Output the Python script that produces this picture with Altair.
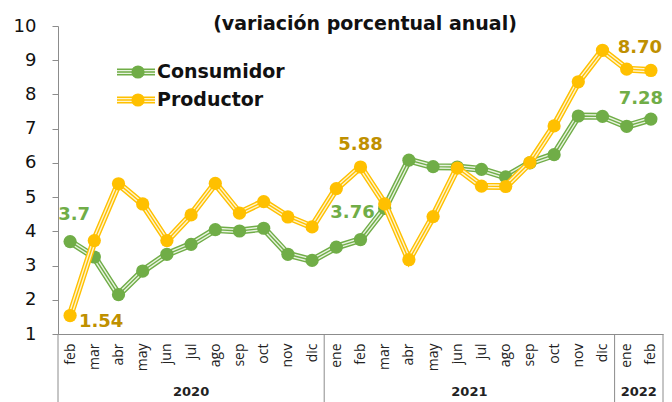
import altair as alt
import pandas as pd

months = ["feb", "mar", "abr", "may", "jun", "jul", "ago", "sep", "oct", "nov", "dic",
          "ene", "feb", "mar", "abr", "may", "jun", "jul", "ago", "sep", "oct", "nov", "dic",
          "ene", "feb"]
years = ["2020"] * 11 + ["2021"] * 12 + ["2022"] * 2

consumidor = [3.70, 3.25, 2.15, 2.84, 3.33, 3.62, 4.05, 4.01, 4.09, 3.33, 3.15,
              3.54, 3.76, 4.67, 6.08, 5.89, 5.88, 5.81, 5.59, 6.00, 6.24, 7.37, 7.36,
              7.07, 7.28]
productor = [1.54, 3.73, 5.39, 4.80, 3.73, 4.48, 5.40, 4.53, 4.87, 4.42, 4.13,
             5.25, 5.88, 4.80, 3.17, 4.43, 5.85, 5.32, 5.31, 6.01, 7.08, 8.37, 9.29,
             8.74, 8.70]

series_names = ["Consumidor", "Productor"]
series_values = [consumidor, productor]
main_colors = ["#70AD47", "#FFC000"]
light_colors = ["#E8F3E0", "#FFF4CC"]
label_colors = ["#70AD47", "#BF9000"]

# annotated points: (series, index, text, dx, dy)
annotations = [
    ("Consumidor", 0, "3.7", 4, -27),
    ("Productor", 0, "1.54", 31, 6),
    ("Consumidor", 12, "3.76", -8, -27),
    ("Productor", 12, "5.88", 0, -22),
    ("Productor", 24, "8.70", -11, -22),
    ("Consumidor", 24, "7.28", -10, -20),
]

title_text = "(variación porcentual anual)"

n = len(months)
rows = []
for s, vals in zip(series_names, series_values):
    for i, v in enumerate(vals):
        rows.append({"idx": i, "series": s, "value": v, "month": months[i], "year": years[i]})
df = pd.DataFrame(rows)

# year groups
yr_df = pd.DataFrame({"idx": range(n), "year": years})
groups = yr_df.groupby("year")["idx"].agg(["min", "max"]).reset_index()
groups["mid"] = (groups["min"] + groups["max"]) / 2
bounds = sorted(set([-0.5] + list(groups["max"] + 0.5)))
bounds_df = pd.DataFrame({"b": bounds})

label_expr = "[" + ",".join("'" + m + "'" for m in months) + "][datum.value]"

xscale = alt.Scale(domain=[-0.5, n - 0.5], nice=False, zero=False)
yscale = alt.Scale(domain=[1, 10], nice=False, zero=False)

x_axis = alt.Axis(values=list(range(n)), labelExpr=label_expr, labelAngle=270,
                  tickSize=0, labelPadding=9, labelFont="Open Sans", labelFontSize=14,
                  labelColor="#222222", domainColor="#8C8C8C", grid=False, title=None,
                  labelOverlap=False)
y_axis = alt.Axis(values=list(range(1, 11)), tickSize=6, labelPadding=16,
                  labelFont="DejaVu Sans", labelFontSize=18, labelColor="#111111",
                  domainColor="#8C8C8C", tickColor="#8C8C8C", grid=False, title=None)

X = alt.X("idx:Q", scale=xscale, axis=x_axis)
Y = alt.Y("value:Q", scale=yscale, axis=y_axis)

layers = []
for s, mc, lc in zip(series_names, main_colors, light_colors):
    base = alt.Chart(df).transform_filter(alt.datum.series == s).encode(x=X, y=Y)
    layers.append(base.mark_line(color=mc, strokeWidth=7))
    layers.append(base.mark_line(color=lc, strokeWidth=4.2))
    layers.append(base.mark_line(color=mc, strokeWidth=1.4))
    layers.append(base.mark_circle(color=mc, size=175, opacity=1))

for s, i, txt, dx, dy in annotations:
    col = label_colors[series_names.index(s)]
    t = alt.Chart(df).transform_filter(
        (alt.datum.series == s) & (alt.datum.idx == i)
    ).transform_calculate(lbl=f"'{txt}'").mark_text(
        font="DejaVu Sans", fontWeight="bold", fontSize=18, color=col,
        dx=dx, dy=dy, align="center", baseline="middle"
    ).encode(x=X, y=Y, text="lbl:N")
    layers.append(t)

# separators below x axis
sep = alt.Chart(bounds_df).mark_rule(color="#8C8C8C", strokeWidth=1).encode(
    x=alt.X("b:Q", scale=xscale, axis=x_axis), y=alt.value(308), y2=alt.value(390))
layers.append(sep)

yr_text = alt.Chart(groups).mark_text(font="DejaVu Sans", fontWeight="bold", fontSize=13,
                                      color="#222222", baseline="middle").encode(
    x=alt.X("mid:Q", scale=xscale, axis=x_axis), y=alt.value(366), text="year:N")
layers.append(yr_text)

# title as text
title_df = pd.DataFrame({"t": [title_text]})
layers.append(alt.Chart(title_df).mark_text(
    font="DejaVu Sans", fontWeight="bold", fontSize=19, color="#111111",
    align="center", baseline="alphabetic").encode(
    x=alt.value(307), y=alt.value(4), text="t:N"))

# legend
leg_y = [46, 74]
for s, mc, lc, ly in zip(series_names, main_colors, light_colors, leg_y):
    ldf = pd.DataFrame({"series": [s]})
    lb = alt.Chart(ldf)
    layers.append(lb.mark_rule(color=mc, strokeWidth=7).encode(
        x=alt.value(59), x2=alt.value(97), y=alt.value(ly)))
    layers.append(lb.mark_rule(color=lc, strokeWidth=4.2).encode(
        x=alt.value(59), x2=alt.value(97), y=alt.value(ly)))
    layers.append(lb.mark_rule(color=mc, strokeWidth=1.4).encode(
        x=alt.value(59), x2=alt.value(97), y=alt.value(ly)))
    layers.append(lb.mark_circle(color=mc, size=175, opacity=1).encode(
        x=alt.value(80), y=alt.value(ly)))
    layers.append(lb.mark_text(font="DejaVu Sans", fontWeight="bold", fontSize=19,
                               color="#111111", align="left", baseline="middle").encode(
        x=alt.value(99), y=alt.value(ly), text="series:N"))

chart = alt.layer(*layers).properties(
    width=605, height=308,
    autosize=alt.AutoSizeParams(type="none"),
    padding={"left": 50, "top": 18, "right": 1, "bottom": 70},
    background="white",
).configure_view(stroke=None)

chart.save("out.html", embed_options={"renderer": "svg", "actions": False})
